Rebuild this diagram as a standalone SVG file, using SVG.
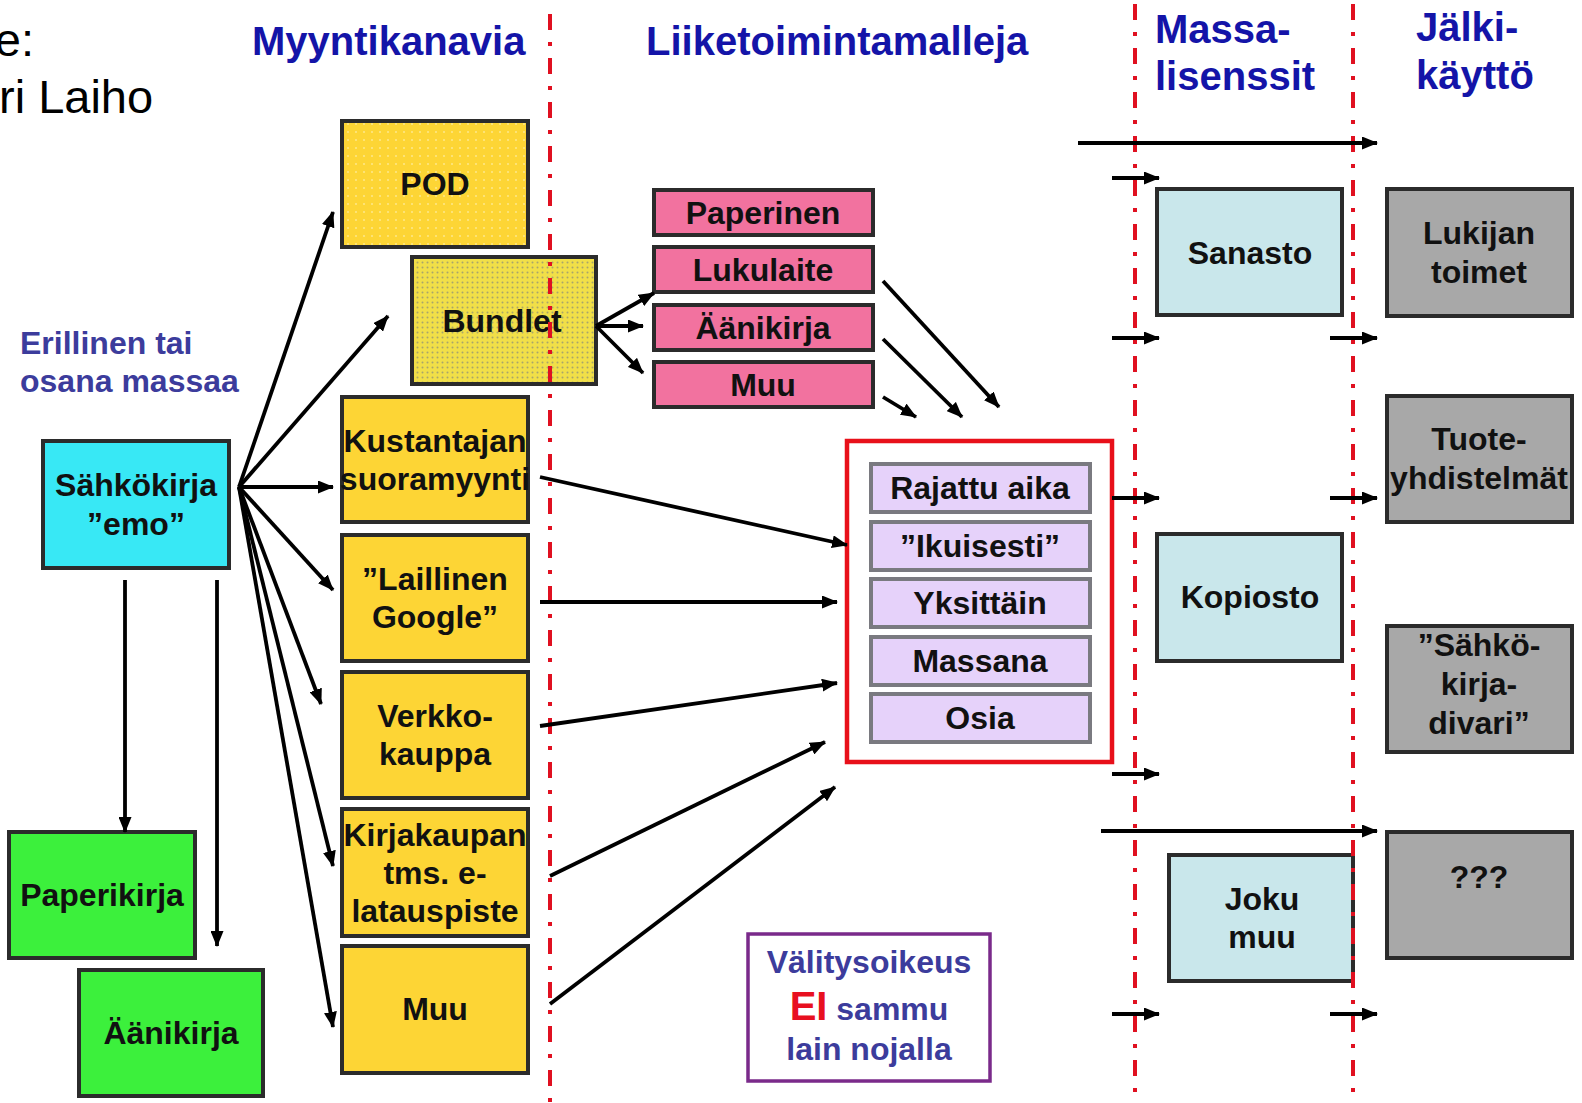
<svg xmlns="http://www.w3.org/2000/svg" width="1582" height="1103" viewBox="0 0 1582 1103">
<defs>
  <marker id="ah" markerUnits="userSpaceOnUse" markerWidth="16" markerHeight="13" viewBox="0 0 16 13" refX="15" refY="6.5" orient="auto">
    <path d="M0,0 L16,6.5 L0,13 z" fill="#000"/>
  </marker>
  <pattern id="dotsLight" width="8" height="8" patternUnits="userSpaceOnUse">
    <rect width="8" height="8" fill="#fdd535"/>
    <circle cx="4" cy="4" r="1" fill="#fde88a"/>
  </pattern>
  <pattern id="dotsDense" width="5" height="5" patternUnits="userSpaceOnUse">
    <rect width="5" height="5" fill="#f1df48"/>
    <circle cx="2.5" cy="2.5" r="1" fill="#a9a56a"/>
  </pattern>
</defs>
<style>
  text{font-family:"Liberation Sans",Arial,sans-serif}
  .box{stroke:#2b2b2b;stroke-width:4}
  .yel{fill:#fdd535}
  .pink{fill:#f2729f}
  .lav{fill:#e6d2fa;stroke:#7a7a80;stroke-width:4}
  .lblue{fill:#c9e7eb}
  .gray{fill:#a8a8a8}
  .green{fill:#3cf03c}
  .cyan{fill:#38e8f5}
  .t{font-weight:bold;font-size:32px;text-anchor:middle;fill:#111}
  .h{font-weight:bold;font-size:40px;fill:#1414a8}
  .note{font-weight:bold;font-size:32px;fill:#3c3c9c}
  .plain{font-size:47px;fill:#000}
  .div{stroke:#e01020;stroke-width:4;stroke-dasharray:16 12 4 12;fill:none}
  #connectors line{stroke:#000;stroke-width:3.8;marker-end:url(#ah)}
</style>

<rect width="1582" height="1103" fill="#fff"/>

<!-- corner text -->
<g id="source-text">
  <text class="plain" x="34" y="56" text-anchor="end">e:</text>
  <text class="plain" x="-1" y="113">ri Laiho</text>
</g>

<!-- headers -->
<g id="headers">
  <text class="h" x="252" y="55">Myyntikanavia</text>
  <text class="h" x="646" y="55">Liiketoimintamalleja</text>
  <text class="h" x="1155" y="43">Massa-</text>
  <text class="h" x="1155" y="90">lisenssit</text>
  <text class="h" x="1416" y="41">Jälki-</text>
  <text class="h" x="1416" y="89">käyttö</text>
</g>

<g id="note-erillinen">
  <text class="note" x="20" y="354">Erillinen tai</text>
  <text class="note" x="20" y="392">osana massaa</text>
</g>

<!-- left column -->
<g id="node-sahkokirja">
  <rect class="box cyan" x="43" y="441" width="186" height="127"/>
  <text class="t" x="136" y="496">Sähkökirja</text>
  <text class="t" x="136" y="535">”emo”</text>
</g>
<g id="node-paperikirja">
  <rect class="box green" x="9" y="832" width="186" height="126"/>
  <text class="t" x="102" y="906">Paperikirja</text>
</g>
<g id="node-aanikirja-green">
  <rect class="box green" x="79" y="970" width="184" height="126"/>
  <text class="t" x="171" y="1044">Äänikirja</text>
</g>

<!-- sales channels -->
<g id="node-pod">
  <rect class="box" fill="url(#dotsLight)" x="342" y="121" width="186" height="126"/>
  <text class="t" x="435" y="195">POD</text>
</g>
<g id="node-bundlet">
  <rect class="box" fill="url(#dotsDense)" x="412" y="257" width="184" height="127"/>
  <text class="t" x="502" y="332">Bundlet</text>
</g>
<g id="node-kustantajan">
  <rect class="box yel" x="342" y="397" width="186" height="125"/>
  <text class="t" x="435" y="452">Kustantajan</text>
  <text class="t" x="435" y="490">suoramyynti</text>
</g>
<g id="node-laillinen">
  <rect class="box yel" x="342" y="535" width="186" height="126"/>
  <text class="t" x="435" y="590">”Laillinen</text>
  <text class="t" x="435" y="628">Google”</text>
</g>
<g id="node-verkkokauppa">
  <rect class="box yel" x="342" y="672" width="186" height="126"/>
  <text class="t" x="435" y="727">Verkko-</text>
  <text class="t" x="435" y="765">kauppa</text>
</g>
<g id="node-kirjakaupan">
  <rect class="box yel" x="342" y="809" width="186" height="127"/>
  <text class="t" x="435" y="846">Kirjakaupan</text>
  <text class="t" x="435" y="884">tms. e-</text>
  <text class="t" x="435" y="922">latauspiste</text>
</g>
<g id="node-muu-channel">
  <rect class="box yel" x="342" y="946" width="186" height="127"/>
  <text class="t" x="435" y="1020">Muu</text>
</g>

<!-- formats -->
<g id="node-paperinen">
  <rect class="box pink" x="654" y="190" width="219" height="45"/>
  <text class="t" x="763" y="224">Paperinen</text>
</g>
<g id="node-lukulaite">
  <rect class="box pink" x="654" y="247" width="219" height="45"/>
  <text class="t" x="763" y="281">Lukulaite</text>
</g>
<g id="node-aanikirja-pink">
  <rect class="box pink" x="654" y="305" width="219" height="45"/>
  <text class="t" x="763" y="339">Äänikirja</text>
</g>
<g id="node-muu-pink">
  <rect class="box pink" x="654" y="362" width="219" height="45"/>
  <text class="t" x="763" y="396">Muu</text>
</g>

<!-- business models -->
<g id="node-models">
  <rect x="847" y="441" width="265" height="321" fill="#fff" stroke="#e8101a" stroke-width="4.5"/>
  <g id="node-rajattu">
    <rect class="lav" x="871" y="464" width="219" height="48"/>
    <text class="t" x="980" y="499">Rajattu aika</text>
  </g>
  <g id="node-ikuisesti">
    <rect class="lav" x="871" y="522" width="219" height="48"/>
    <text class="t" x="980" y="557">”Ikuisesti”</text>
  </g>
  <g id="node-yksittain">
    <rect class="lav" x="871" y="579" width="219" height="48"/>
    <text class="t" x="980" y="614">Yksittäin</text>
  </g>
  <g id="node-massana">
    <rect class="lav" x="871" y="637" width="219" height="48"/>
    <text class="t" x="980" y="672">Massana</text>
  </g>
  <g id="node-osia">
    <rect class="lav" x="871" y="694" width="219" height="48"/>
    <text class="t" x="980" y="729">Osia</text>
  </g>
</g>

<g id="node-valitysoikeus">
  <rect x="748" y="934" width="242" height="147" fill="#fff" stroke="#7a2a8a" stroke-width="3.5"/>
  <text class="note" x="869" y="973" text-anchor="middle">Välitysoikeus</text>
  <text class="note" x="869" y="1020" text-anchor="middle"><tspan fill="#e81020" font-size="40">EI</tspan> sammu</text>
  <text class="note" x="869" y="1060" text-anchor="middle">lain nojalla</text>
</g>

<!-- mass licences -->
<g id="node-sanasto">
  <rect class="box lblue" x="1157" y="189" width="185" height="126"/>
  <text class="t" x="1250" y="264">Sanasto</text>
</g>
<g id="node-kopiosto">
  <rect class="box lblue" x="1157" y="534" width="185" height="127"/>
  <text class="t" x="1250" y="608">Kopiosto</text>
</g>
<g id="node-jokumuu">
  <rect class="box lblue" x="1169" y="855" width="184" height="126"/>
  <text class="t" x="1262" y="910">Joku</text>
  <text class="t" x="1262" y="948">muu</text>
</g>

<!-- after-use -->
<g id="node-lukijan">
  <rect class="box gray" x="1387" y="189" width="185" height="127"/>
  <text class="t" x="1479" y="244">Lukijan</text>
  <text class="t" x="1479" y="283">toimet</text>
</g>
<g id="node-tuote">
  <rect class="box gray" x="1387" y="396" width="185" height="126"/>
  <text class="t" x="1479" y="450">Tuote-</text>
  <text class="t" x="1479" y="489">yhdistelmät</text>
</g>
<g id="node-divari">
  <rect class="box gray" x="1387" y="626" width="185" height="126"/>
  <text class="t" x="1479" y="656">”Sähkö-</text>
  <text class="t" x="1479" y="695">kirja-</text>
  <text class="t" x="1479" y="734">divari”</text>
</g>
<g id="node-unknown">
  <rect class="box gray" x="1387" y="832" width="185" height="126"/>
  <text class="t" x="1479" y="888">???</text>
</g>

<!-- dividers -->
<g id="dividers">
  <line class="div" x1="550" y1="14" x2="550" y2="1103"/>
  <line class="div" x1="1135" y1="4" x2="1135" y2="1103"/>
  <line class="div" x1="1353" y1="4" x2="1353" y2="1103"/>
</g>

<!-- connectors -->
<g id="connectors">
  <line x1="239" y1="487" x2="333" y2="212"/>
  <line x1="239" y1="487" x2="388" y2="316"/>
  <line x1="239" y1="487" x2="333" y2="487"/>
  <line x1="239" y1="487" x2="333" y2="590"/>
  <line x1="239" y1="487" x2="321" y2="704"/>
  <line x1="239" y1="487" x2="333" y2="866"/>
  <line x1="239" y1="487" x2="333" y2="1027"/>
  <line x1="125" y1="580" x2="125" y2="832"/>
  <line x1="217" y1="580" x2="217" y2="946"/>
  <line x1="596" y1="326" x2="654" y2="293"/>
  <line x1="596" y1="326" x2="643" y2="326"/>
  <line x1="596" y1="326" x2="643" y2="373"/>
  <line x1="883" y1="281" x2="999" y2="407"/>
  <line x1="883" y1="339" x2="962" y2="417"/>
  <line x1="883" y1="397" x2="916" y2="417"/>
  <line x1="540" y1="477" x2="847" y2="545"/>
  <line x1="540" y1="602" x2="837" y2="602"/>
  <line x1="540" y1="726" x2="837" y2="683"/>
  <line x1="550" y1="876" x2="825" y2="742"/>
  <line x1="550" y1="1004" x2="835" y2="787"/>
  <line x1="1078" y1="143" x2="1377" y2="143"/>
  <line x1="1112" y1="178" x2="1159" y2="178"/>
  <line x1="1112" y1="338" x2="1159" y2="338"/>
  <line x1="1330" y1="338" x2="1377" y2="338"/>
  <line x1="1112" y1="498" x2="1159" y2="498"/>
  <line x1="1330" y1="498" x2="1377" y2="498"/>
  <line x1="1112" y1="774" x2="1159" y2="774"/>
  <line x1="1101" y1="831" x2="1377" y2="831"/>
  <line x1="1112" y1="1014" x2="1159" y2="1014"/>
  <line x1="1330" y1="1014" x2="1377" y2="1014"/>
</g>
</svg>
